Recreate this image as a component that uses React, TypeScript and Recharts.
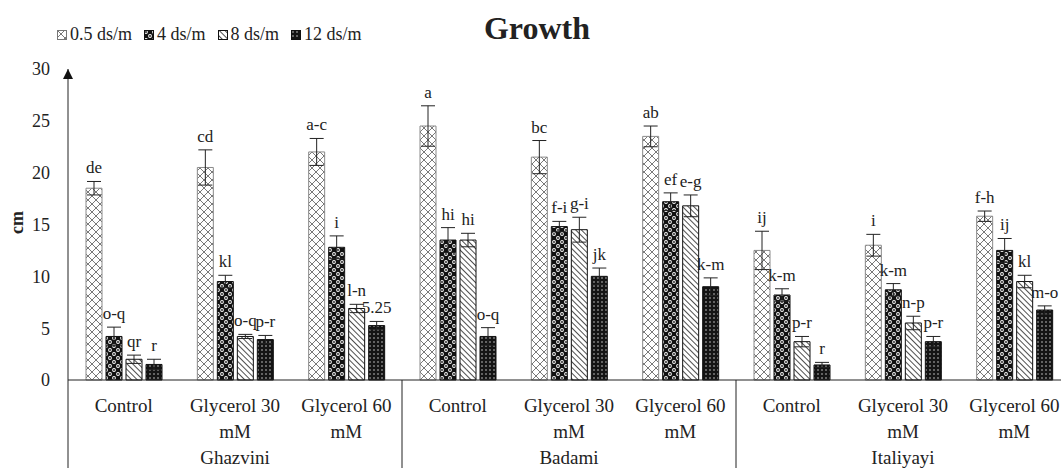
import React from 'react';
import { BarChart, Bar, XAxis, YAxis, ErrorBar, LabelList } from 'recharts';

const CATEGORIES = [
  'Control', 'Glycerol 30\nmM', 'Glycerol 60\nmM',
  'Control', 'Glycerol 30\nmM', 'Glycerol 60\nmM',
  'Control', 'Glycerol 30\nmM', 'Glycerol 60\nmM',
];
const GROUPS = ['Ghazvini', 'Badami', 'Italiyayi'];
const SERIES_NAMES = ['0.5 ds/m', '4 ds/m', '8 ds/m', '12 ds/m'];
const Y_TICKS = [0, 5, 10, 15, 20, 25, 30];

const S05 = [18.5, 20.5, 22.0, 24.5, 21.5, 23.5, 12.5, 13.0, 15.8];
const S4 = [4.2, 9.5, 12.8, 13.5, 14.8, 17.2, 8.2, 8.7, 12.5];
const S8 = [2.0, 4.2, 6.9, 13.5, 14.5, 16.8, 3.7, 5.5, 9.5];
const S12 = [1.5, 3.9, 5.25, 4.2, 10.0, 9.0, 1.45, 3.7, 6.75];

const E05 = [0.65, 1.7, 1.3, 1.95, 1.6, 1.0, 1.85, 1.05, 0.5];
const E4 = [0.9, 0.6, 1.1, 1.2, 0.5, 0.85, 0.6, 0.6, 1.15];
const E8 = [0.4, 0.2, 0.4, 0.65, 1.2, 1.05, 0.5, 0.65, 0.6];
const E12 = [0.5, 0.4, 0.4, 0.85, 0.8, 0.85, 0.25, 0.5, 0.4];

const L05 = ['de', 'cd', 'a-c', 'a', 'bc', 'ab', 'ij', 'i', 'f-h'];
const L4 = ['o-q', 'kl', 'i', 'hi', 'f-i', 'ef', 'k-m', 'k-m', 'ij'];
const L8 = ['qr', 'o-q', 'l-n', 'hi', 'g-i', 'e-g', 'p-r', 'n-p', 'kl'];
const L12 = ['r', 'p-r', '5.25', 'o-q', 'jk', 'k-m', 'r', 'p-r', 'm-o'];

// layout
const CHART_W = 1070;
const CHART_H = 468;
const TOP = 69;
const Y_AXIS_W = 68;
const X_AXIS_H = 88;
const AXIS_Y = CHART_H - X_AXIS_H;
const PLOT_H = AXIS_Y - TOP;
const PLOT_W = CHART_W - Y_AXIS_W;
const CAT_W = PLOT_W / CATEGORIES.length;
const Y_MAX = 30;
const FONT = '"Liberation Serif", "Times New Roman", serif';

const data = CATEGORIES.map((cat, i) => ({
  cat,
  s1: S05[i], e1: E05[i],
  s2: S4[i], e2: E4[i],
  s3: S8[i], e3: E8[i],
  s4: S12[i], e4: E12[i],
}));

const SERIES = [
  { key: 's1', err: 'e1', errs: E05, labels: L05, fill: 'url(#pZig)', stroke: '#8a8a8a' },
  { key: 's2', err: 'e2', errs: E4, labels: L4, fill: 'url(#pCircle)', stroke: '#111' },
  { key: 's3', err: 'e3', errs: E8, labels: L8, fill: 'url(#pDiag)', stroke: '#111' },
  { key: 's4', err: 'e4', errs: E12, labels: L12, fill: 'url(#pDots)', stroke: '#111' },
];

const Patterns = () => (
  <defs>
    <pattern id="pZig" patternUnits="userSpaceOnUse" width="8" height="8">
      <rect width="8" height="8" fill="#fff" />
      <path d="M0,0 L8,8 M8,0 L0,8" stroke="#6a6a6a" strokeWidth="0.9" />
    </pattern>
    <pattern id="pCircle" patternUnits="userSpaceOnUse" width="8" height="8">
      <rect width="8" height="8" fill="#111" />
      <circle cx="2" cy="2" r="1.9" fill="#fff" />
      <circle cx="2" cy="2" r="0.9" fill="#111" />
      <circle cx="6" cy="6" r="1.9" fill="#fff" />
      <circle cx="6" cy="6" r="0.9" fill="#111" />
    </pattern>
    <pattern id="pDiag" patternUnits="userSpaceOnUse" width="4" height="4" patternTransform="rotate(-45)">
      <rect width="4" height="4" fill="#fff" />
      <line x1="0" y1="0" x2="0" y2="4" stroke="#222" strokeWidth="1.6" />
    </pattern>
    <pattern id="pDots" patternUnits="userSpaceOnUse" width="4" height="4">
      <rect width="4" height="4" fill="#141414" />
      <circle cx="2" cy="2" r="0.75" fill="#d8d8d8" />
    </pattern>
  </defs>
);

const CategoryTick = (props: any) => {
  const { x, index, payload } = props;
  const lines = String(payload.value).split('\n');
  const left = x - CAT_W / 2;
  return (
    <g>
      {lines.map((t, i) => (
        <text key={i} x={x} y={AXIS_Y + 32 + i * 26} textAnchor="middle"
          fontFamily={FONT} fontSize={19} fill="#222">{t}</text>
      ))}
      {index % 3 === 0 && (
        <line x1={left} y1={AXIS_Y} x2={left} y2={CHART_H} stroke="#222" strokeWidth={1} />
      )}
      {index % 3 === 1 && (
        <text x={x} y={AXIS_Y + 84} textAnchor="middle" fontFamily={FONT} fontSize={19} fill="#222">
          {GROUPS[Math.floor(index / 3)]}
        </text>
      )}
    </g>
  );
};

const makeLetter = (errs: number[], labels: string[]) => (props: any) => {
  const { x, y, width, index } = props;
  const errTop = Number(y) - (errs[index] * PLOT_H) / Y_MAX;
  return (
    <text x={Number(x) + Number(width) / 2} y={errTop - 8} textAnchor="middle"
      fontFamily={FONT} fontSize={17} fill="#222">{labels[index]}</text>
  );
};

const LEGEND_SWATCH = ['url(#pZig)', 'url(#pCircle)', 'url(#pDiag)', 'url(#pDots)'];

export default function App() {
  return (
    <div style={{ position: 'absolute', left: 0, top: 0, width: 1061, height: CHART_H, overflow: 'hidden', background: '#fff' }}>
      <BarChart width={CHART_W} height={CHART_H} data={data}
        margin={{ top: TOP, right: 0, bottom: 0, left: 0 }} barSize={16} barGap={4}>
        <Patterns />
        <XAxis dataKey="cat" interval={0} height={X_AXIS_H} tickLine={false}
          axisLine={{ stroke: '#222' }} tick={<CategoryTick />} />
        <YAxis width={Y_AXIS_W} domain={[0, Y_MAX]} ticks={Y_TICKS} tickLine={false}
          axisLine={{ stroke: '#222' }} tickMargin={12}
          tick={{ fill: '#222', fontSize: 18, fontFamily: FONT }} />
        {SERIES.map((s) => (
          <Bar key={s.key} dataKey={s.key} fill={s.fill} stroke={s.stroke} strokeWidth={1}
            isAnimationActive={false}>
            <ErrorBar dataKey={s.err} width={7} stroke="#222" strokeWidth={1} direction="y" />
            <LabelList dataKey={s.key} content={makeLetter(s.errs, s.labels)} />
          </Bar>
        ))}
      </BarChart>

      {/* y axis arrow */}
      <svg style={{ position: 'absolute', left: 0, top: 0 }} width={100} height={100}>
        <polygon points={`${Y_AXIS_W - 5},${TOP + 10} ${Y_AXIS_W + 5},${TOP + 10} ${Y_AXIS_W},${TOP}`} fill="#111" />
      </svg>

      <div style={{ position: 'absolute', left: 0, width: 1074, top: 10, textAlign: 'center',
        fontFamily: FONT, fontWeight: 'bold', fontSize: 32, color: '#222' }}>Growth</div>

      <div style={{ position: 'absolute', left: 6, top: 212, transform: 'rotate(-90deg)',
        fontFamily: FONT, fontWeight: 'bold', fontSize: 18, color: '#222' }}>cm</div>

      <div style={{ position: 'absolute', left: 57, top: 24, display: 'flex', alignItems: 'center',
        fontFamily: FONT, fontSize: 18, color: '#222', gap: 12 }}>
        {SERIES_NAMES.map((n, i) => (
          <div key={n} style={{ display: 'flex', alignItems: 'center' }}>
            <svg width={10} height={10} style={{ marginRight: 3 }}>
              <rect x={0.5} y={0.5} width={9} height={9} fill={LEGEND_SWATCH[i]} stroke={i === 0 ? '#777' : '#111'} />
            </svg>
            <span>{n}</span>
          </div>
        ))}
      </div>
    </div>
  );
}
